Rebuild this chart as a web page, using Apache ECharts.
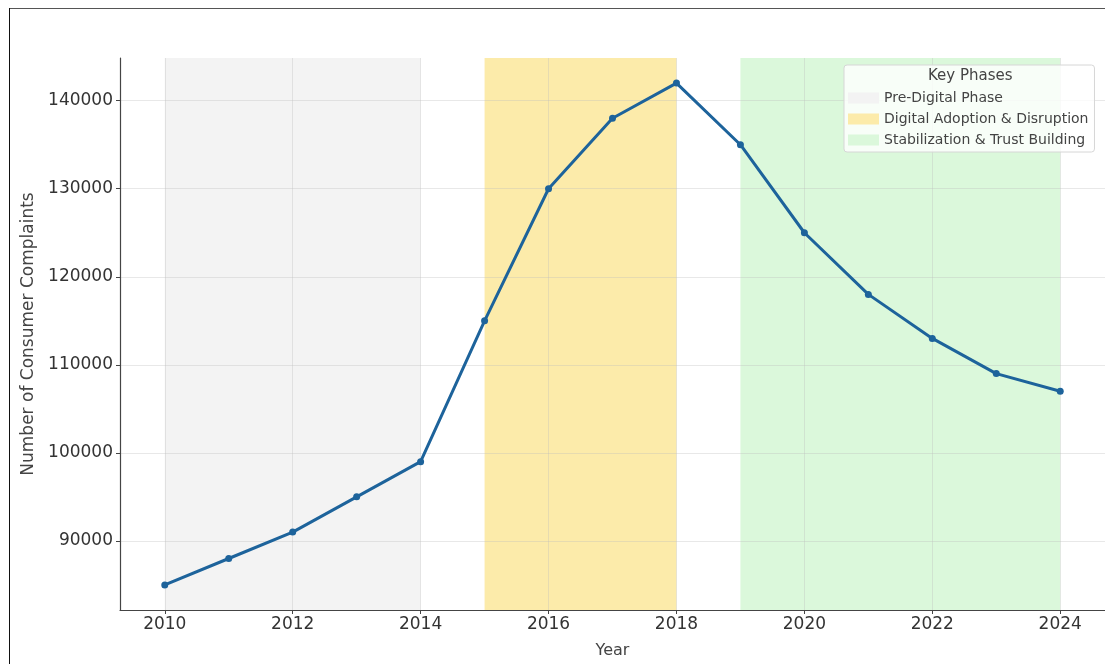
<!DOCTYPE html>
<html>
<head>
<meta charset="utf-8">
<script src="https://cdn.jsdelivr.net/npm/echarts@6/dist/echarts.min.js"></script>
<style>
  html, body { margin: 0; padding: 0; background: #fff; }
  #chart { width: 1105px; height: 664px; }
</style>
</head>
<body>
<div id="chart"></div>
<script>
// values
const years = [2010, 2011, 2012, 2013, 2014, 2015, 2016, 2017, 2018, 2019, 2020, 2021, 2022, 2023, 2024]
const complaints = [85000, 88000, 91000, 95000, 99000, 115000, 130000, 138000, 142000, 135000, 125000, 118000, 113000, 109000, 107000]
const xTicks = [2010, 2012, 2014, 2016, 2018, 2020, 2022, 2024]
const yTicks = [90000, 100000, 110000, 120000, 130000, 140000]

const phaseNames = ['Pre-Digital Phase', 'Digital Adoption & Disruption', 'Stabilization & Trust Building']
const phaseStart = [2010, 2015, 2019]
const phaseEnd = [2014, 2018, 2024]
const phaseColors = ['#f3f3f3', '#fcebaa', '#dbf8db']

const font = 'DejaVu Sans'
const lineColor = '#1d639b'
const chart = echarts.init(document.getElementById('chart'))

const phaseSeries = phaseNames.map((name, i) => ({
  name: name,
  type: 'line',
  data: [],
  color: phaseColors[i],
  z: 1,
  markArea: {
    silent: true,
    itemStyle: { color: phaseColors[i] },
    data: [[{ xAxis: phaseStart[i] }, { xAxis: phaseEnd[i] }]]
  }
}))

const option = {
  animation: false,
  textStyle: { fontFamily: font },
  grid: { left: 120, top: 58, right: -2, bottom: 52, containLabel: false },
  xAxis: {
    type: 'value',
    z: 3,
    min: 2009.3,
    max: 2024.7,
    name: 'Year',
    nameLocation: 'middle',
    nameGap: 33,
    nameTextStyle: { fontSize: 16, color: '#444', fontFamily: font },
    axisLine: { show: true, lineStyle: { color: '#444', width: 1.2 } },
    axisTick: { show: true, length: 4, customValues: xTicks, lineStyle: { color: '#444' } },
    axisLabel: { customValues: xTicks, fontSize: 17, color: '#333', margin: 6, fontFamily: font, formatter: v => String(v) },
    splitLine: { show: true, lineStyle: { color: 'rgba(190,190,190,0.35)', width: 1 } }
  },
  yAxis: {
    type: 'value',
    z: 3,
    min: 82150,
    max: 144850,
    name: 'Number of Consumer Complaints',
    nameLocation: 'middle',
    nameGap: 82,
    nameRotate: 90,
    nameTextStyle: { fontSize: 17, color: '#444', fontFamily: font },
    axisLine: { show: true, lineStyle: { color: '#444', width: 1.2 } },
    axisTick: { show: true, length: 4, customValues: yTicks, lineStyle: { color: '#444' } },
    axisLabel: { customValues: yTicks, fontSize: 17, color: '#333', margin: 7, fontFamily: font, formatter: v => String(v) },
    splitLine: { show: true, lineStyle: { color: 'rgba(190,190,190,0.35)', width: 1 } }
  },
  legend: {
    orient: 'vertical',
    left: 844,
    top: 65,
    padding: [26, 6, 5, 4],
    itemGap: 7,
    itemWidth: 31,
    itemHeight: 11,
    backgroundColor: 'rgba(255,255,255,0.8)',
    borderColor: '#d6d6d6',
    borderWidth: 1,
    borderRadius: 3,
    textStyle: { fontSize: 14, color: '#444', fontFamily: font },
    selectedMode: false,
    data: phaseNames.map((name, i) => ({ name: name, icon: 'rect', itemStyle: { color: phaseColors[i] } }))
  },
  graphic: [
    {
      type: 'text',
      left: 928,
      top: 69,
      z: 100,
      style: { text: 'Key Phases', fontSize: 15, fill: '#444', fontFamily: font }
    },
    {
      type: 'line',
      shape: { x1: 9, y1: 8.5, x2: 1105, y2: 8.5 },
      style: { stroke: '#555', lineWidth: 1 }
    },
    {
      type: 'line',
      shape: { x1: 9.5, y1: 8, x2: 9.5, y2: 664 },
      style: { stroke: '#111', lineWidth: 1 }
    }
  ],
  series: [
    ...phaseSeries,
    {
      name: 'Complaints',
      type: 'line',
      z: 5,
      data: years.map((y, i) => [y, complaints[i]]),
      color: lineColor,
      lineStyle: { width: 3, color: lineColor },
      symbol: 'circle',
      symbolSize: 7,
      itemStyle: { color: lineColor }
    }
  ]
}

chart.setOption(option)
</script>
</body>
</html>
